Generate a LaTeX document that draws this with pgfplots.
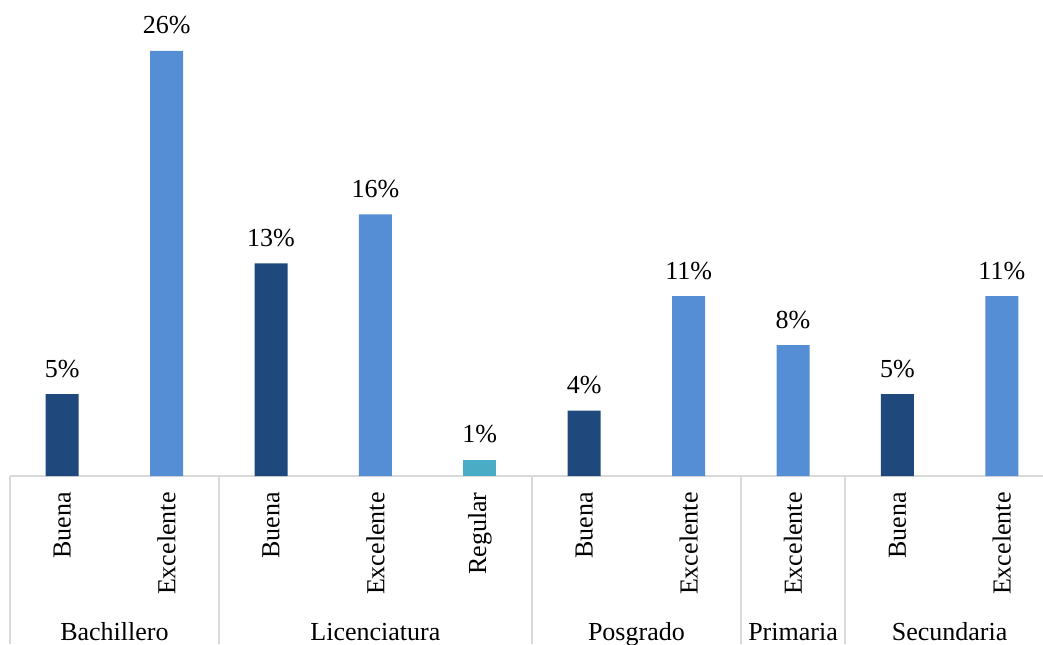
\documentclass[border=0pt]{standalone}
\usepackage{pgfplots}
\pgfplotsset{compat=1.18}
\usepackage{fontspec}
\setmainfont{Liberation Serif}
\definecolor{buena}{HTML}{1F497D}
\definecolor{excelente}{HTML}{558ED5}
\definecolor{regular}{HTML}{4BACC6}
\definecolor{linegray}{HTML}{D9D9D9}
\begin{document}
\begin{tikzpicture}[font=\fontsize{13pt}{15pt}\selectfont]
\clip (0,0) rectangle (521.5pt,322pt);
\begin{axis}[
  at={(5pt,84pt)}, anchor=south west,
  scale only axis, width=522pt, height=238pt,
  xmin=-0.5, xmax=9.5, ymin=0, ymax=29.11,
  ybar, bar shift=0pt, bar width=16.5pt,
  axis x line*=bottom, axis y line=none,
  x axis line style={linegray, line width=0.75pt, -},
  major tick length=0pt,
  /pgf/number format/assume math mode=true,
  xtick={0,...,9},
  xticklabels={Buena,Excelente,Buena,Excelente,Regular,Buena,Excelente,Excelente,Buena,Excelente},
  xticklabel style={rotate=90, anchor=east, inner xsep=8pt, inner ysep=0pt},
  nodes near coords={\pgfmathprintnumber{\pgfplotspointmeta}\%},
  every node near coord/.append style={anchor=base, inner sep=0pt, yshift=8.5pt, text=black},
  clip=false,
]
% Buena
\addplot[fill=buena, draw=none] coordinates {(0,5) (2,13) (5,4) (8,5)};
% Excelente
\addplot[fill=excelente, draw=none] coordinates {(1,26) (3,16) (6,11) (7,8) (9,11)};
% Regular
\addplot[fill=regular, draw=none] coordinates {(4,1)};

% group separators
\pgfplotsinvokeforeach{-0.5,1.5,4.5,6.5,7.5,9.5}{
  \draw[linegray, line width=0.75pt] (axis cs:#1,0) -- ([yshift=-84pt]axis cs:#1,0);
}
% group names
\node[anchor=base, yshift=-82pt] at (axis cs:0.5,0) {Bachillero};
\node[anchor=base, yshift=-82pt] at (axis cs:3,0) {Licenciatura};
\node[anchor=base, yshift=-82pt] at (axis cs:5.5,0) {Posgrado};
\node[anchor=base, yshift=-82pt] at (axis cs:7,0) {Primaria};
\node[anchor=base, yshift=-82pt] at (axis cs:8.5,0) {Secundaria};
\end{axis}
\end{tikzpicture}
\end{document}
